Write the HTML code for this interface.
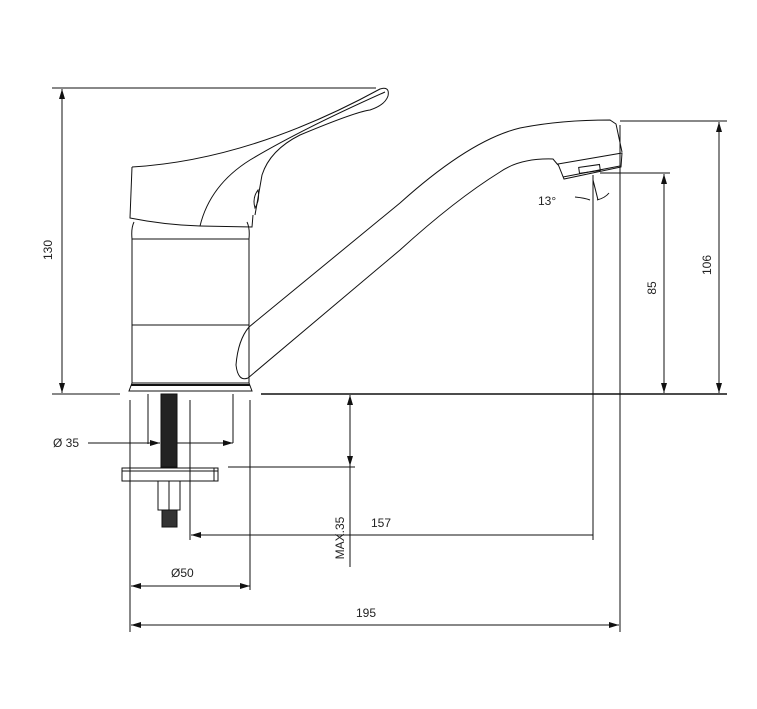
<!DOCTYPE html>
<html><head><meta charset="utf-8"><style>
html,body{margin:0;padding:0;background:#fff;}
svg{display:block;}
text{font-family:"Liberation Sans",sans-serif;font-size:12px;fill:#222;}
</style></head><body>
<svg width="757" height="709" viewBox="0 0 757 709" xmlns="http://www.w3.org/2000/svg">
<defs>
<marker id="a" viewBox="0 0 10 6" refX="10" refY="3" markerWidth="10" markerHeight="6" orient="auto-start-reverse" markerUnits="userSpaceOnUse">
<path d="M0,0 L10,3 L0,6 Z" fill="#111"/></marker>
</defs>
<g stroke="#111" stroke-width="1" fill="none">
<!-- top extension -->
<line x1="52" y1="88" x2="376" y2="88"/>
<!-- 130 dim -->
<line x1="62" y1="89" x2="62" y2="393" marker-start="url(#a)" marker-end="url(#a)"/>
<!-- base lines -->
<line x1="52" y1="394" x2="120" y2="394"/>
<line x1="261" y1="394" x2="727" y2="394" stroke-width="1.4"/>
<!-- 106 -->
<line x1="620" y1="121" x2="727" y2="121"/>
<line x1="719" y1="122" x2="719" y2="393" marker-start="url(#a)" marker-end="url(#a)"/>
<!-- 85 -->
<line x1="600" y1="173" x2="670" y2="173"/>
<line x1="664" y1="174" x2="664" y2="393" marker-start="url(#a)" marker-end="url(#a)"/>
<!-- vertical ext lines -->
<line x1="593" y1="175" x2="593" y2="540"/>
<line x1="620" y1="125" x2="620" y2="632"/>
<line x1="130" y1="400" x2="130" y2="632"/>
<line x1="250" y1="400" x2="250" y2="590"/>
<line x1="190" y1="400" x2="190" y2="540"/>
<line x1="148" y1="394" x2="148" y2="444"/>
<line x1="233" y1="394" x2="233" y2="443"/>
<!-- Ø35 -->
<line x1="88" y1="443" x2="160" y2="443" marker-end="url(#a)"/>
<line x1="177" y1="443" x2="233" y2="443" marker-end="url(#a)"/>
<!-- MAX 35 -->
<line x1="228" y1="467" x2="355" y2="467"/>
<line x1="350" y1="395" x2="350" y2="466" marker-start="url(#a)" marker-end="url(#a)"/>
<line x1="350" y1="466" x2="350" y2="567"/>
<!-- 157 -->
<line x1="191" y1="535" x2="593" y2="535" marker-start="url(#a)"/>
<!-- Ø50 -->
<line x1="131" y1="586" x2="250" y2="586" marker-start="url(#a)" marker-end="url(#a)"/>
<!-- 195 -->
<line x1="131" y1="625" x2="619" y2="625" marker-start="url(#a)" marker-end="url(#a)"/>

<!-- body -->
<path d="M134,222 Q131,228 132,239 L132,383 L249,383 L249,239 Q250,228 247,222"/>
<line x1="132" y1="239" x2="249" y2="239"/>
<line x1="132" y1="325" x2="249" y2="325"/>
<path d="M132,383 L129,391 L252,391 L249,383"/>
<line x1="131" y1="385" x2="250" y2="385" stroke-width="2"/>
<!-- handle -->
<path d="M132,167 L130,218 Q165,225 200,226 L252,227 L253,215"/>
<path d="M132,167 Q250,160 380,89 Q390,86 388,96 Q385,105 370,110 Q355,112 300,135 Q270,150 262,175 L255,215"/>
<path d="M200,226 Q210,185 250,160 Q300,130 385,92"/>
<path d="M258,190 Q252,198 255,208 Q260,200 258,190 Z"/>
<!-- spout -->
<path d="M249,327 L400,203 Q470,140 520,128 Q560,120 610,120 L616,124 L622,152"/>
<path d="M248,378 L400,250 Q455,200 500,172 Q520,158 553,159 L558,165"/>
<path d="M249,327 Q238,340 236,365 Q238,382 248,378"/>
<path d="M558,164 L622,153 L621,167 L564,179 Z"/>
<line x1="563" y1="177" x2="620" y2="166"/>
<rect x="579" y="166" width="21" height="6" transform="rotate(-8 589 169)"/>
<!-- 13° -->
<path d="M593,180 L598,200"/>
<path d="M575,197 Q585,198 590,200"/>
<path d="M597,200 Q605,198 609,193"/>
<!-- rod / plate / nut -->
<rect x="161" y="394" width="16" height="73" fill="#222"/>
<rect x="122" y="468" width="96" height="13"/>
<line x1="122" y1="471" x2="218" y2="471"/>
<line x1="214" y1="468" x2="214" y2="481"/>
<rect x="158" y="481" width="22" height="29"/>
<line x1="169" y1="481" x2="169" y2="510"/>
<rect x="162" y="510" width="15" height="17" fill="#333"/>
</g>
<text transform="translate(52,250) rotate(-90)" text-anchor="middle">130</text>
<text transform="translate(711,265) rotate(-90)" text-anchor="middle">106</text>
<text transform="translate(656,288) rotate(-90)" text-anchor="middle">85</text>
<text transform="translate(344,538) rotate(-90)" text-anchor="middle">MAX.35</text>
<text x="53" y="447">Ø 35</text>
<text x="371" y="527">157</text>
<text x="171" y="577">Ø50</text>
<text x="356" y="617">195</text>
<text x="538" y="205">13°</text>
</svg>
</body></html>
